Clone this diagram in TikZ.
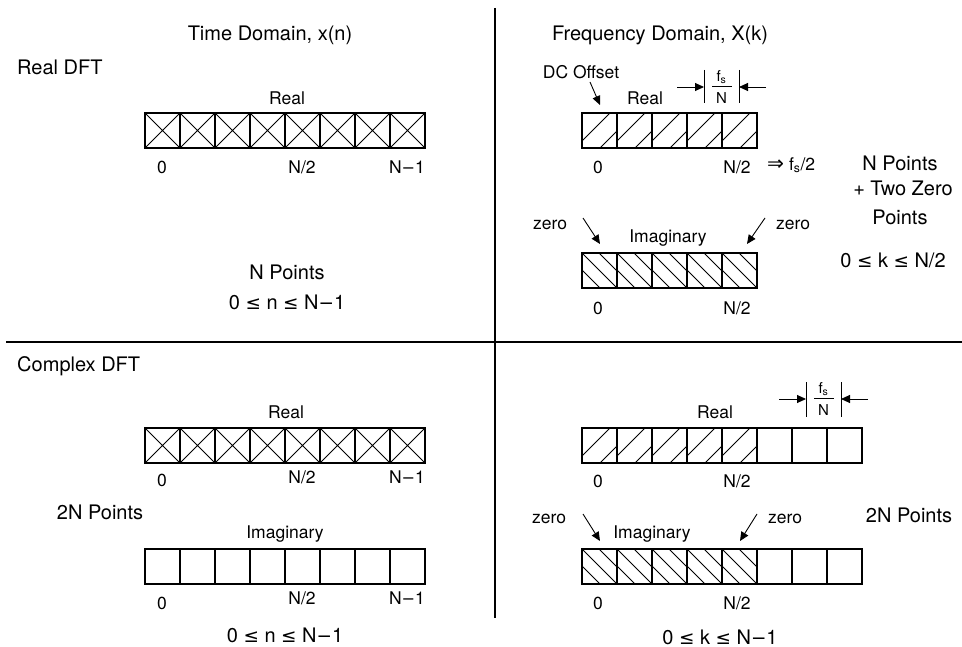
\documentclass[tikz,border=0pt]{standalone}
\usepackage{fontspec}
\setmainfont{TeX Gyre Heros}
\newfontfamily\symf{DejaVu Sans}[Scale=0.92]
\usetikzlibrary{arrows.meta}
\begin{document}
\begin{tikzpicture}[x=1pt,y=-1pt,
  big/.style={font=\fontsize{20}{24}\selectfont, inner sep=0pt, text height=14.4pt, text depth=0pt},
  lab/.style={font=\fontsize{17.5}{21}\selectfont, inner sep=0pt, text height=12.6pt, text depth=0pt},
  fr/.style={font=\fontsize{15}{18}\selectfont, inner sep=0pt, text height=10.8pt, text depth=0pt},
  cellbox/.style={line width=1.3pt},
  hatch/.style={line width=0.8pt},
  divider/.style={line width=1.1pt},
  ptr/.style={line width=0.9pt, -{Triangle[length=9pt,width=8pt]}},
  tick/.style={line width=1pt},
]
\useasboundingbox (0,0) rectangle (962,647);

% ---------- dividers ----------
\coordinate (vt) at (495,8);
\coordinate (vb) at (495,618);
\coordinate (hl) at (6,342);
\coordinate (hr) at (962,342);
\draw[divider] (vt) -- (vb);
\draw[divider] (hl) -- (hr);

% ---------- headings ----------
\node[big] (tdh) at (270,33) {Time Domain, x(n)};
\node[big] (fdh) at (660,33) {Frequency Domain, X(k)};
\node[big,anchor=west] (rdft) at (17,67) {Real DFT};
\node[big,anchor=west] (cdft) at (17,364) {Complex DFT};

% ---------- top-left: real time box ----------
\foreach \i in {0,...,7}{
  \draw[hatch] (145+35*\i,113) -- ++(35,35) (145+35*\i,148) -- ++(35,-35);
}
\draw[cellbox] (145,113) rectangle (425,148);
\foreach \i in {1,...,7}{ \draw[cellbox] (145+35*\i,113) -- ++(0,35); }
\node[lab] (tlreal) at (287,98) {Real};
\node[lab] (tl0) at (162,167) {0};
\node[lab] (tlh) at (302,167) {N/2};
\node[lab] (tln) at (407,167) {N{\symf −}1};
\node[big] (tlnp) at (287,272) {N Points};
\node[big] (tlcond) at (287,302) {0 {\symf ≤} n {\symf ≤} N{\symf −}1};

% ---------- top-right: real freq box ----------
\foreach \i in {0,...,4}{
  \begin{scope}
    \clip (582+35*\i,113) rectangle ++(35,35);
    \draw[hatch] (582+35*\i,113+28) -- ++(28,-28)
                 (582+35*\i+18,148) -- ++(17,-17);
  \end{scope}
}
\draw[cellbox] (582,113) rectangle (757,148);
\foreach \i in {1,...,4}{ \draw[cellbox] (582+35*\i,113) -- ++(0,35); }
\node[lab] (dco) at (581,72) {DC Offset};
\coordinate (dcoA) at (590,82);
\coordinate (dcoB) at (600,105);
\draw[ptr] (dcoA) -- (dcoB);
\node[lab] (trreal) at (645,98) {Real};
% fs/N
\coordinate (t1a) at (704,70); \coordinate (t1b) at (704,103);
\coordinate (t2a) at (739,70); \coordinate (t2b) at (739,103);
\draw[tick] (t1a) -- (t1b);
\draw[tick] (t2a) -- (t2b);
\coordinate (la) at (677,87); \coordinate (lb) at (704,87);
\coordinate (ra) at (766,87); \coordinate (rb) at (739,87);
\draw[ptr] (la) -- (lb);
\draw[ptr] (ra) -- (rb);
\node[fr] (tfnum) at (721.5,76) {f\textsubscript{s}};
\coordinate (tbarA) at (712,86.5); \coordinate (tbarB) at (732,86.5);
\draw[line width=0.8pt] (tbarA) -- (tbarB);
\node[fr] (tfden) at (721.5,98) {N};
\node[lab] (tr0) at (598,167) {0};
\node[lab] (trh) at (737,167) {N/2};
\node[lab,anchor=west] (trfs) at (767,164) {{\symf\fontsize{22}{24}\selectfont ⇒} f\textsubscript{s}/2};
\node[big] (trnp1) at (900,163) {N Points};
\node[big] (trnp2) at (903,188) {+ Two Zero};
\node[big] (trnp3) at (900,217) {Points};

% ---------- top-right: imaginary freq box ----------
\node[lab] (trz1) at (550,223) {zero};
\coordinate (z1a) at (583,218); \coordinate (z1b) at (600,244);
\draw[ptr] (z1a) -- (z1b);
\node[lab] (trim) at (668,236) {Imaginary};
\node[lab] (trz2) at (793,223) {zero};
\coordinate (z2a) at (765,218); \coordinate (z2b) at (747,244);
\draw[ptr] (z2a) -- (z2b);
\foreach \i in {0,...,4}{
  \begin{scope}
    \clip (582+35*\i,253) rectangle ++(35,35);
    \draw[hatch] (582+35*\i,253+17) -- ++(18,18)
                 (582+35*\i,253) -- ++(35,35)
                 (582+35*\i+17,253) -- ++(18,18);
  \end{scope}
}
\draw[cellbox] (582,253) rectangle (757,288);
\foreach \i in {1,...,4}{ \draw[cellbox] (582+35*\i,253) -- ++(0,35); }
\node[lab] (ti0) at (598,308) {0};
\node[lab] (tih) at (737,308) {N/2};
\node[big] (trcond) at (893,260) {0 {\symf ≤} k {\symf ≤} N/2};

% ---------- bottom-left ----------
\node[lab] (blreal) at (286,412) {Real};
\foreach \i in {0,...,7}{
  \draw[hatch] (145+35*\i,428) -- ++(35,35) (145+35*\i,463) -- ++(35,-35);
}
\draw[cellbox] (145,428) rectangle (425,463);
\foreach \i in {1,...,7}{ \draw[cellbox] (145+35*\i,428) -- ++(0,35); }
\node[lab] (bl0) at (162,480) {0};
\node[lab] (blh) at (302,477) {N/2};
\node[lab] (bln) at (407,477) {N{\symf −}1};
\node[big] (bl2n) at (100,512) {2N Points};
\node[lab] (blim) at (285,532) {Imaginary};
\draw[cellbox] (145,549) rectangle (425,584);
\foreach \i in {1,...,7}{ \draw[cellbox] (145+35*\i,549) -- ++(0,35); }
\node[lab] (bi0) at (162,603) {0};
\node[lab] (bih) at (302,598) {N/2};
\node[lab] (bin) at (407,598) {N{\symf −}1};
\node[big] (blcond) at (285,635) {0 {\symf ≤} n {\symf ≤} N{\symf −}1};

% ---------- bottom-right ----------
\node[lab] (brreal) at (715,412) {Real};
\foreach \i in {0,...,4}{
  \begin{scope}
    \clip (582+35*\i,428) rectangle ++(35,35);
    \draw[hatch] (582+35*\i,428+28) -- ++(28,-28)
                 (582+35*\i+18,463) -- ++(17,-17);
  \end{scope}
}
\draw[cellbox] (582,428) rectangle (862,463);
\foreach \i in {1,...,7}{ \draw[cellbox] (582+35*\i,428) -- ++(0,35); }
% fs/N
\coordinate (u1a) at (806,382); \coordinate (u1b) at (806,417);
\coordinate (u2a) at (841,382); \coordinate (u2b) at (841,417);
\draw[tick] (u1a) -- (u1b);
\draw[tick] (u2a) -- (u2b);
\coordinate (bla) at (779,399); \coordinate (blb) at (806,399);
\coordinate (bra) at (868,399); \coordinate (brb) at (841,399);
\draw[ptr] (bla) -- (blb);
\draw[ptr] (bra) -- (brb);
\node[fr] (bfnum) at (823.5,388) {f\textsubscript{s}};
\coordinate (bbarA) at (814,398.5); \coordinate (bbarB) at (834,398.5);
\draw[line width=0.8pt] (bbarA) -- (bbarB);
\node[fr] (bfden) at (823.5,410) {N};
\node[lab] (br0) at (598,481) {0};
\node[lab] (brh) at (737,481) {N/2};
\node[lab] (brz1) at (549,517) {zero};
\coordinate (y1a) at (583,514); \coordinate (y1b) at (600,541);
\draw[ptr] (y1a) -- (y1b);
\node[lab] (brim) at (652,532) {Imaginary};
\node[lab] (brz2) at (785,517) {zero};
\coordinate (y2a) at (757,514); \coordinate (y2b) at (740,541);
\draw[ptr] (y2a) -- (y2b);
\node[big] (br2n) at (909,515) {2N Points};
\foreach \i in {0,...,4}{
  \begin{scope}
    \clip (582+35*\i,549) rectangle ++(35,35);
    \draw[hatch] (582+35*\i,549+17) -- ++(18,18)
                 (582+35*\i,549) -- ++(35,35)
                 (582+35*\i+17,549) -- ++(18,18);
  \end{scope}
}
\draw[cellbox] (582,549) rectangle (862,584);
\foreach \i in {1,...,7}{ \draw[cellbox] (582+35*\i,549) -- ++(0,35); }
\node[lab] (bi0r) at (598,603) {0};
\node[lab] (bihr) at (737,603) {N/2};
\node[big] (brcond) at (720,637) {0 {\symf ≤} k {\symf ≤} N{\symf −}1};
\end{tikzpicture}
\end{document}
